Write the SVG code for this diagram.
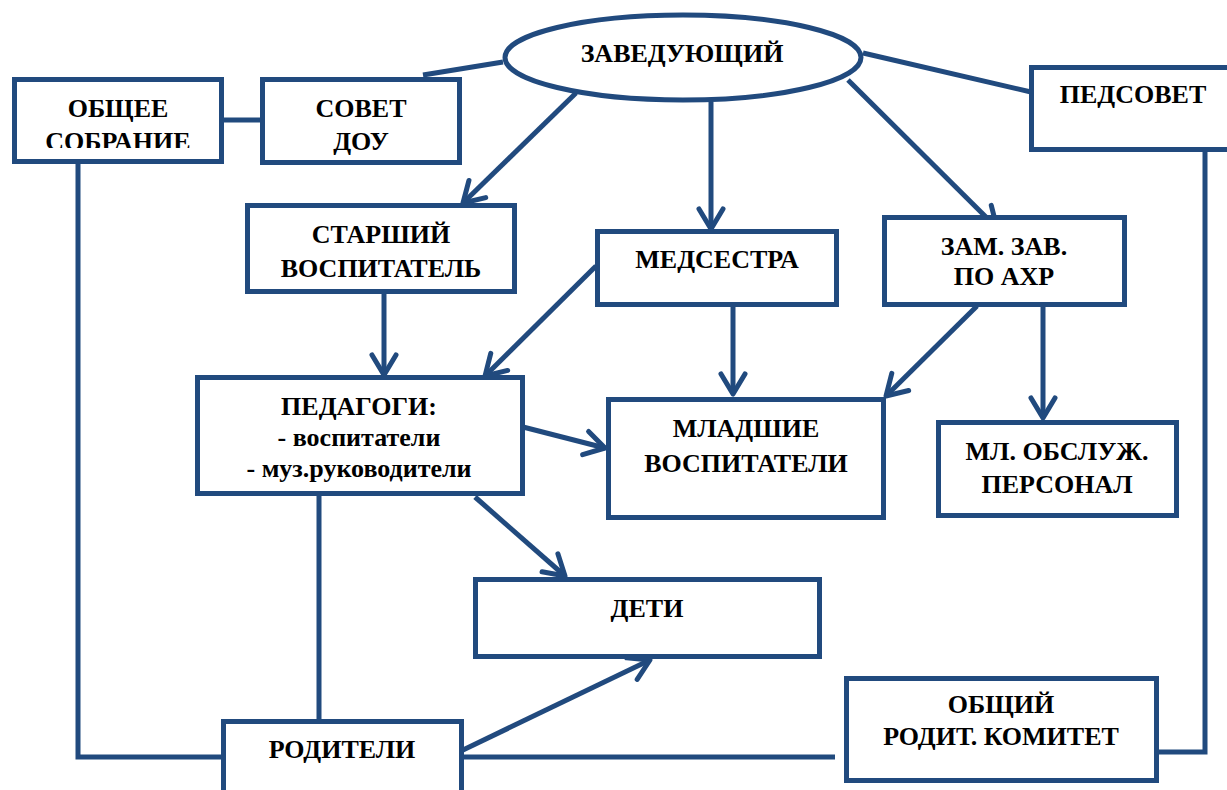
<svg xmlns="http://www.w3.org/2000/svg" width="1227" height="790" viewBox="0 0 1227 790">
<defs>
<marker id="arr" markerUnits="userSpaceOnUse" markerWidth="40" markerHeight="40" viewBox="-25 -20 30 40" refX="0" refY="0" orient="auto">
<path d="M-20,-12 L0,0 L-20,12" fill="none" stroke="#214a7e" stroke-width="5" stroke-linecap="round" stroke-linejoin="round"/>
</marker>
<clipPath id="clipOS"><rect x="0" y="60" width="230" height="88"/></clipPath>
</defs>
<rect width="1227" height="790" fill="#fff"/>
<g id="connectors" fill="none" stroke="#214a7e" stroke-width="5">
<polyline points="423,75 503,62"/>
<polyline points="863,53 1031,92"/>
<polyline points="222,120 262,120"/>
<polyline points="78,161 78,757 223,757"/>
<polyline points="1205,150 1205,752 1157,752"/>
<polyline points="461,757 835,757"/>
<polyline points="319,494 319,721"/>
<g marker-end="url(#arr)">
<line x1="576" y1="93" x2="463" y2="203"/>
<line x1="711" y1="102" x2="711" y2="229"/>
<line x1="848" y1="80" x2="997" y2="228"/>
<line x1="384" y1="292" x2="384" y2="375"/>
<line x1="596" y1="266" x2="485" y2="376"/>
<line x1="733" y1="305" x2="733" y2="394"/>
<line x1="977" y1="306" x2="886" y2="396"/>
<line x1="1043" y1="305" x2="1043" y2="418"/>
<line x1="523" y1="427" x2="605" y2="448"/>
<line x1="475" y1="497" x2="565" y2="576"/>
<line x1="463" y1="750" x2="650" y2="660"/>
</g>
</g>
<g id="nodes" font-family="Times New Roman, Liberation Serif, serif" font-weight="bold" font-size="26" text-anchor="middle">
<g id="zav">
<ellipse cx="683" cy="57.5" rx="178" ry="42.5" fill="#fff" stroke="#214a7e" stroke-width="5"/>
<text x="682" y="62" font-family="Times New Roman">ЗАВЕДУЮЩИЙ</text>
</g>
<g id="obshee">
<rect x="14.5" y="79.5" width="207" height="82" fill="#fff" stroke="#214a7e" stroke-width="5"/>
<g clip-path="url(#clipOS)">
<text x="118" y="117" font-family="Times New Roman">ОБЩЕЕ</text>
<text x="118" y="150" font-family="Times New Roman">СОБРАНИЕ</text>
</g>
</g>
<g id="sovet">
<rect x="262.5" y="79.5" width="197" height="83" fill="#fff" stroke="#214a7e" stroke-width="5"/>
<text x="361" y="117" font-family="Times New Roman">СОВЕТ</text>
<text x="361" y="150" font-family="Times New Roman">ДОУ</text>
</g>
<g id="pedsovet">
<rect x="1031.5" y="67.5" width="200" height="82" fill="#fff" stroke="#214a7e" stroke-width="5"/>
<text x="1133" y="103" font-family="Times New Roman">ПЕДСОВЕТ</text>
</g>
<g id="starshiy">
<rect x="247.5" y="205.5" width="267" height="86" fill="#fff" stroke="#214a7e" stroke-width="5"/>
<text x="381" y="243" font-family="Times New Roman">СТАРШИЙ</text>
<text x="381" y="277" font-family="Times New Roman">ВОСПИТАТЕЛЬ</text>
</g>
<g id="medsestra">
<rect x="597.5" y="231.5" width="239" height="73" fill="#fff" stroke="#214a7e" stroke-width="5"/>
<text x="717" y="268" font-family="Times New Roman">МЕДСЕСТРА</text>
</g>
<g id="zam">
<rect x="884.5" y="217.5" width="240" height="87" fill="#fff" stroke="#214a7e" stroke-width="5"/>
<text x="1004" y="255" font-family="Times New Roman">ЗАМ. ЗАВ.</text>
<text x="1004" y="285" font-family="Times New Roman">ПО АХР</text>
</g>
<g id="pedagogi">
<rect x="197.5" y="377.5" width="325" height="116" fill="#fff" stroke="#214a7e" stroke-width="5"/>
<text x="359" y="415" font-family="Times New Roman">ПЕДАГОГИ:</text>
<text x="359" y="446" font-family="Times New Roman">- воспитатели</text>
<text x="359" y="477" font-family="Times New Roman">- муз.руководители</text>
</g>
<g id="mladshie">
<rect x="608.5" y="399.5" width="275" height="118" fill="#fff" stroke="#214a7e" stroke-width="5"/>
<text x="746" y="437" font-family="Times New Roman">МЛАДШИЕ</text>
<text x="746" y="472" font-family="Times New Roman">ВОСПИТАТЕЛИ</text>
</g>
<g id="mlobsl">
<rect x="938.5" y="422.5" width="238" height="93" fill="#fff" stroke="#214a7e" stroke-width="5"/>
<text x="1057" y="460" font-family="Times New Roman">МЛ. ОБСЛУЖ.</text>
<text x="1057" y="493" font-family="Times New Roman">ПЕРСОНАЛ</text>
</g>
<g id="deti">
<rect x="475.5" y="579.5" width="344" height="77" fill="#fff" stroke="#214a7e" stroke-width="5"/>
<text x="647" y="617" font-family="Times New Roman">ДЕТИ</text>
</g>
<g id="roditeli">
<rect x="223.5" y="721.5" width="238" height="80" fill="#fff" stroke="#214a7e" stroke-width="5"/>
<text x="342" y="758" font-family="Times New Roman">РОДИТЕЛИ</text>
</g>
<g id="komitet">
<rect x="846.5" y="678.5" width="310" height="102" fill="#fff" stroke="#214a7e" stroke-width="5"/>
<text x="1001" y="713" font-family="Times New Roman">ОБЩИЙ</text>
<text x="1001" y="745" font-family="Times New Roman">РОДИТ. КОМИТЕТ</text>
</g>
</g>
</svg>
